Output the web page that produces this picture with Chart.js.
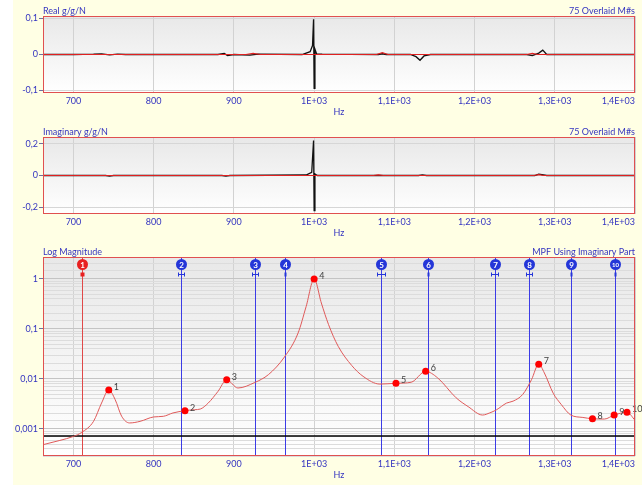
<!DOCTYPE html>
<html>
<head>
<meta charset="utf-8">
<script src="https://cdn.jsdelivr.net/npm/chart.js@4.4.1/dist/chart.umd.min.js"></script>
<style>
    html, body { margin: 0; padding: 0; background: #fff; }
    #page { position: relative; width: 642px; height: 485px; overflow: hidden; }
    #bg { position: absolute; left: 13px; top: 0; width: 629px; height: 485px; background: #FFFFE4; }
    canvas { position: absolute; left: 0; }
</style>
</head>
<body>
<div id="page">
    <div id="bg"></div>
    <canvas id="realChart" width="642" height="120" style="top:0;width:642px;height:120px"></canvas>
    <canvas id="imagChart" width="642" height="120" style="top:120px;width:642px;height:120px"></canvas>
    <canvas id="magChart" width="642" height="245" style="top:240px;width:642px;height:245px"></canvas>
</div>
<script>
// Frequency axis (shared)
const xMin = 662, xMax = 1400;
const xTickValues = [700, 800, 900, 1000, 1100, 1200, 1300, 1400];
const xTickLabels = ['700', '800', '900', '1E+03', '1,1E+03', '1,2E+03', '1,3E+03', '1,4E+03'];

// Real part - overlaid measurements (black) and synthesized (red)
const realHz   = [662, 700, 725, 735, 745, 755, 765, 880, 888, 892, 900, 920, 930, 985, 995, 998, 999.3, 1000, 1001, 1003, 1010, 1080, 1085, 1090, 1120, 1127, 1132, 1137, 1145, 1265, 1272, 1280, 1285, 1290, 1400];
const realMeas = [0, 0, 0.001, 0.002, -0.001, 0.001, 0, 0, 0.003, -0.003, 0, -0.002, 0.001, 0, 0.008, 0.025, 0.098, -0.094, 0.015, 0.002, 0.001, 0, 0.002, 0, 0, -0.006, -0.016, -0.004, 0, 0, -0.003, 0.004, 0.012, 0, 0];
const realSynthHz = [662, 915, 924, 933, 1078, 1085, 1092, 1265, 1272, 1279, 1400];
const realSynth   = [0, 0, 0.003, 0, 0, 0.005, 0, 0, 0.003, 0, 0];

// Imaginary part
const imagHz   = [662, 740, 745, 750, 885, 890, 895, 990, 997, 999.3, 1000, 1001, 1004, 1130, 1135, 1140, 1275, 1280, 1284, 1290, 1400];
const imagMeas = [0, 0, -0.004, 0, 0, -0.004, 0, 0.003, 0.02, 0.22, -0.22, 0.01, 0, 0, 0.004, 0, 0, 0.008, 0.006, 0, 0];
const imagSynthHz = [662, 1074, 1080, 1086, 1274, 1280, 1286, 1400];
const imagSynth   = [0, 0, 0.004, 0, 0, 0.005, 0, 0];

// Log magnitude - MPF curve
const magHz  = [662, 683, 700, 710, 725, 735, 744, 752, 760, 770, 783, 800, 812, 824, 839, 851, 858, 868, 880, 891, 905, 926, 943, 963, 980, 990, 1000, 1009, 1018, 1030, 1047, 1061, 1082, 1102, 1121, 1139, 1154, 1177, 1192, 1210, 1219, 1227, 1240, 1248, 1260, 1271, 1280, 1287, 1298, 1308, 1320, 1335, 1347, 1362, 1374, 1390, 1400];
const magVal = [4.85e-4, 5.9e-4, 7.1e-4, 8.5e-4, 1.42e-3, 3.3e-3, 6.0e-3, 3.85e-3, 1.8e-3, 1.32e-3, 1.42e-3, 1.74e-3, 1.79e-3, 2.09e-3, 2.32e-3, 2.43e-3, 2.5e-3, 3.3e-3, 5.6e-3, 9.6e-3, 6.6e-3, 8.5e-3, 0.0122, 0.0275, 0.083, 0.28, 1.0, 0.33, 0.122, 0.045, 0.0185, 0.0113, 0.0079, 0.0082, 0.0086, 0.0142, 0.0105, 0.0042, 0.0028, 0.0019, 0.0021, 0.0024, 0.0033, 0.0036, 0.0049, 0.0097, 0.0198, 0.0132, 0.0052, 0.0031, 0.0019, 0.0017, 0.0016, 0.00158, 0.0019, 0.00215, 0.0015];

// Peaks (red dots)
const peakHz  = [744, 839, 891, 1000, 1102, 1139, 1280, 1347, 1374, 1390];
const peakVal = [0.006, 0.00232, 0.0096, 1.0, 0.0082, 0.0142, 0.0198, 0.0016, 0.0019, 0.00215];

// Mode markers (vertical lines) and their bandwidth in Hz
const markerHz   = [710, 834, 926, 964, 1083, 1142, 1225, 1268, 1320, 1374.5];
const markerBand = [0, 4, 4, 0, 5, 0, 4, 4, 0, 0];

// Noise threshold line
const thresholdVal = 7.2e-4;

const blue = '#3434C0';
const font = 'Lato, Noto Sans, sans-serif';

const pts = (xs, ys) => xs.map((x, i) => ({ x: x, y: ys[i] }));

function fmtComma(v) {
    const r = Math.round(v * 10000) / 10000;
    return String(r).replace('.', ',');
}

// Background gradient, border, titles and frequency labels
const panelPlugin = {
    id: 'panel',
    beforeDraw(chart) {
        const { ctx, chartArea: a } = chart;
        const g = ctx.createLinearGradient(0, a.top, 0, a.bottom);
        g.addColorStop(0, '#E8E8E8');
        g.addColorStop(1, '#FFFFFF');
        ctx.save();
        ctx.fillStyle = g;
        ctx.fillRect(a.left, a.top, a.right - a.left, a.bottom - a.top);
        ctx.restore();
    },
    afterDraw(chart, args, opts) {
        const { ctx, chartArea: a } = chart;
        const xs = chart.scales.x;
        ctx.save();
        ctx.strokeStyle = '#E05050';
        ctx.lineWidth = 1;
        ctx.strokeRect(a.left + 0.5, a.top + 0.5, a.right - a.left - 1, a.bottom - a.top - 1);

        ctx.fillStyle = blue;
        ctx.font = '9px ' + font;
        ctx.textBaseline = 'middle';
        ctx.textAlign = 'left';
        ctx.fillText(opts.left, a.left, a.top - 5);
        ctx.textAlign = 'right';
        ctx.fillText(opts.right, a.right, a.top - 5);

        xTickValues.forEach((v, i) => {
            const px = xs.getPixelForValue(v);
            ctx.textAlign = (v === xMax) ? 'right' : 'center';
            ctx.fillText(xTickLabels[i], px, a.bottom + 8.5);
        });
        ctx.textAlign = 'center';
        ctx.fillText('Hz', (a.left + a.right) / 2, a.bottom + 19.5);
        ctx.restore();
    }
};

// Mode markers on the magnitude panel
const markerPlugin = {
    id: 'markers',
    beforeDatasetsDraw(chart) {
        const { ctx, chartArea: a } = chart;
        const xs = chart.scales.x;
        ctx.save();
        markerHz.forEach((hz, i) => {
            const px = Math.round(xs.getPixelForValue(hz)) + 0.5;
            ctx.strokeStyle = i === 0 ? '#E04848' : '#3C3CE6';
            ctx.lineWidth = 1;
            ctx.beginPath();
            ctx.moveTo(px, a.top);
            ctx.lineTo(px, a.bottom);
            ctx.stroke();
        });
        ctx.restore();
    },
    afterDatasetsDraw(chart) {
        const { ctx, chartArea: a } = chart;
        const xs = chart.scales.x, ys = chart.scales.y;
        ctx.save();
        markerHz.forEach((hz, i) => {
            const px = Math.round(xs.getPixelForValue(hz)) + 0.5;
            const col = i === 0 ? '#E82020' : '#2436D8';
            // band marker
            const by = a.top + 17.5;
            ctx.strokeStyle = col;
            ctx.fillStyle = col;
            ctx.lineWidth = 1;
            if (markerBand[i] > 0) {
                const x0 = Math.round(xs.getPixelForValue(hz - markerBand[i])) + 0.5;
                const x1 = Math.round(xs.getPixelForValue(hz + markerBand[i])) + 0.5;
                ctx.beginPath();
                ctx.moveTo(x0, by); ctx.lineTo(x1, by);
                ctx.moveTo(x0, by - 2); ctx.lineTo(x0, by + 2);
                ctx.moveTo(x1, by - 2); ctx.lineTo(x1, by + 2);
                ctx.stroke();
            } else if (i === 0) {
                ctx.fillRect(px - 2, by - 2, 4, 4);
            } else {
                ctx.fillRect(px - 1, by - 2, 2, 4);
            }
            // numbered circle
            ctx.beginPath();
            ctx.arc(px, a.top + 7.5, 5.5, 0, Math.PI * 2);
            ctx.fill();
            ctx.fillStyle = '#FFFFFF';
            ctx.font = 'bold ' + (i === 9 ? 6 : 8) + 'px ' + font;
            ctx.textAlign = 'center';
            ctx.textBaseline = 'middle';
            ctx.fillText(String(i + 1), px, a.top + 8);
        });
        // peak labels
        ctx.fillStyle = '#404040';
        ctx.font = '9px ' + font;
        ctx.textAlign = 'left';
        ctx.textBaseline = 'middle';
        peakHz.forEach((hz, i) => {
            const px = xs.getPixelForValue(hz);
            const py = ys.getPixelForValue(peakVal[i]);
            ctx.fillText(String(i + 1), px + 5, py - 3);
        });
        ctx.restore();
    }
};

function baseOptions(padTop, xAxisH, yScale, left, right) {
    return {
        responsive: false,
        animation: false,
        devicePixelRatio: 1,
        layout: { padding: { top: padTop, right: 7, left: 0, bottom: 0 } },
        plugins: {
            legend: { display: false },
            tooltip: { enabled: false },
            panel: { left: left, right: right }
        },
        scales: {
            x: {
                type: 'linear',
                min: xMin,
                max: xMax,
                ticks: { display: false, stepSize: 100, includeBounds: false },
                grid: { color: '#D2D2D2', drawTicks: false },
                border: { display: false },
                afterFit: s => { s.height = xAxisH; }
            },
            y: Object.assign({
                border: { display: false },
                afterFit: s => { s.width = 43; }
            }, yScale)
        }
    };
}

function linearY(lim, step) {
    return {
        type: 'linear',
        min: -lim,
        max: lim,
        ticks: {
            stepSize: step,
            includeBounds: false,
            color: blue,
            padding: 1,
            font: { family: font, size: 9 },
            callback: v => fmtComma(v)
        },
        grid: { color: '#D6D6D6', tickLength: 4, tickColor: '#7070A0' }
    };
}

// Real chart
new Chart(document.getElementById('realChart').getContext('2d'), {
    type: 'line',
    data: {
        datasets: [
            { data: pts(realSynthHz, realSynth), borderColor: '#E02020', borderWidth: 1.2, pointRadius: 0, order: 0 },
            { data: pts(realHz, realMeas), borderColor: '#111111', borderWidth: 1.3, pointRadius: 0, order: 1 }
        ]
    },
    options: baseOptions(16, 27, linearY(0.107, 0.1), 'Real g/g/N', '75 Overlaid M#s'),
    plugins: [panelPlugin]
});

// Imaginary chart
new Chart(document.getElementById('imagChart').getContext('2d'), {
    type: 'line',
    data: {
        datasets: [
            { data: pts(imagSynthHz, imagSynth), borderColor: '#E02020', borderWidth: 1.2, pointRadius: 0, order: 0 },
            { data: pts(imagHz, imagMeas), borderColor: '#111111', borderWidth: 1.3, pointRadius: 0, order: 1 }
        ]
    },
    options: baseOptions(17, 26, linearY(0.242, 0.2), 'Imaginary g/g/N', '75 Overlaid M#s'),
    plugins: [panelPlugin]
});

// Log magnitude chart
const isDecade = v => Math.abs(Math.log10(v) - Math.round(Math.log10(v))) < 1e-6;
new Chart(document.getElementById('magChart').getContext('2d'), {
    type: 'line',
    data: {
        datasets: [
            { data: pts(peakHz, peakVal), showLine: false, pointRadius: 3.5, pointBackgroundColor: '#FF0000', pointBorderWidth: 0, order: 0 },
            { data: pts(magHz, magVal), borderColor: '#E05A5A', borderWidth: 1, pointRadius: 0, cubicInterpolationMode: 'monotone', order: 1 },
            { data: pts([xMin, xMax], [thresholdVal, thresholdVal]), borderColor: '#000000', borderWidth: 1.5, pointRadius: 0, order: 2 }
        ]
    },
    options: baseOptions(17, 29, {
        type: 'logarithmic',
        min: 2.88e-4,
        max: 2.75,
        ticks: {
            autoSkip: false,
            color: blue,
            padding: 1,
            font: { family: font, size: 9 },
            callback: v => isDecade(v) ? fmtComma(v) : ''
        },
        grid: {
            color: c => (c.tick && isDecade(c.tick.value)) ? '#C4C4C4' : '#DCDCDC',
            tickLength: 4,
            tickColor: c => (c.tick && isDecade(c.tick.value)) ? '#7070A0' : 'rgba(0,0,0,0)'
        }
    }, 'Log Magnitude', 'MPF Using Imaginary Part'),
    plugins: [panelPlugin, markerPlugin]
});
</script>
</body>
</html>
